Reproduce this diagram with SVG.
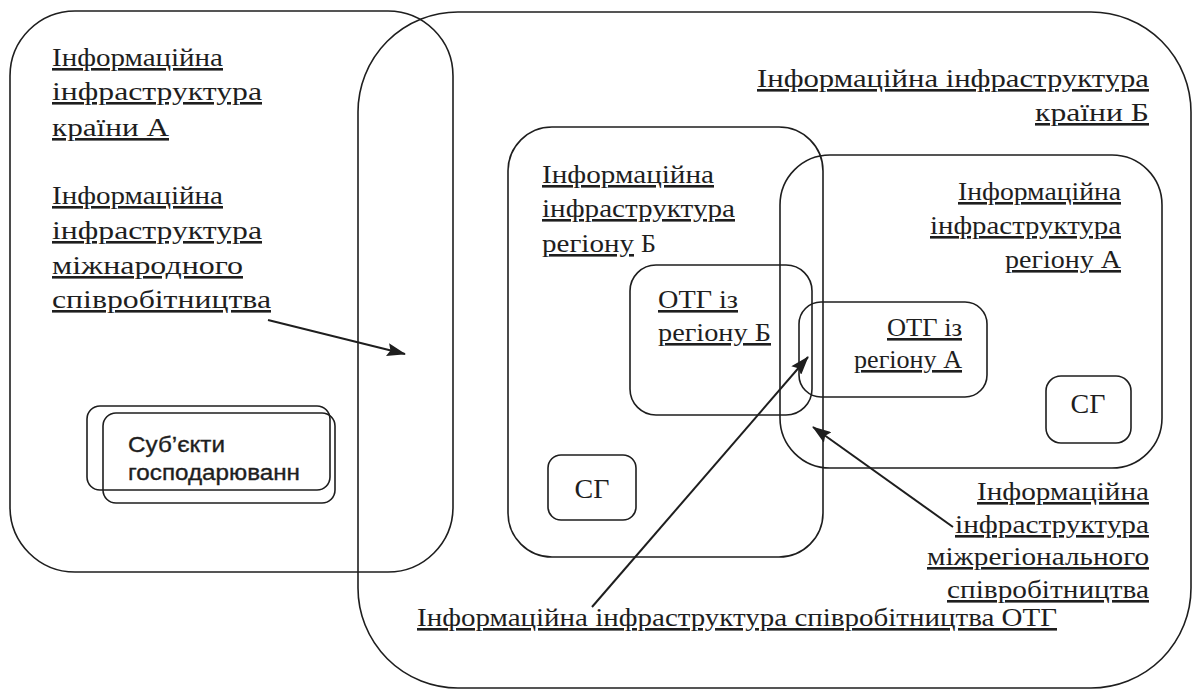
<svg xmlns="http://www.w3.org/2000/svg" width="1193" height="691" viewBox="0 0 1193 691">
<style>
.b{fill:none;stroke:#1e1e1e;stroke-width:1.6}
.t{font-family:"Liberation Serif","Times New Roman",serif;font-size:26px;fill:#1e1e1e}
.u{text-decoration:underline}
.s{font-family:"Liberation Sans",Arial,sans-serif;font-size:22px;fill:#1e1e1e;stroke:#1e1e1e;stroke-width:0.35}
.g{font-family:"Liberation Serif","Times New Roman",serif;font-size:28px;fill:#1e1e1e}
.c{fill:none;stroke:#1e1e1e;stroke-width:2}
</style>
<defs>
<marker id="ah" viewBox="0 0 19 13" refX="18" refY="6.5" markerWidth="19" markerHeight="13" markerUnits="userSpaceOnUse" orient="auto">
<path d="M0,0 L19,6.5 L0,13 L3,6.5 z" fill="#1e1e1e"/>
</marker>
</defs>
<rect width="1193" height="691" fill="#fff"/>
<g id="country-a">
<rect class="b" x="10" y="11" width="443" height="561" rx="65"/>
<text class="t u" x="52" y="66" textLength="171" lengthAdjust="spacingAndGlyphs">Інформаційна</text>
<text class="t u" x="52" y="100" textLength="210" lengthAdjust="spacingAndGlyphs">інфраструктура</text>
<text class="t u" x="52" y="136" textLength="117" lengthAdjust="spacingAndGlyphs">країни А</text>
</g>
<g id="intl-coop">
<text class="t u" x="52" y="204" textLength="171" lengthAdjust="spacingAndGlyphs">Інформаційна</text>
<text class="t u" x="52" y="239" textLength="210" lengthAdjust="spacingAndGlyphs">інфраструктура</text>
<text class="t u" x="52" y="274" textLength="191" lengthAdjust="spacingAndGlyphs">міжнародного</text>
<text class="t u" x="52" y="308" textLength="219" lengthAdjust="spacingAndGlyphs">співробітництва</text>
</g>
<g id="country-b">
<rect class="b" x="358" y="12" width="833" height="676" rx="100"/>
<text class="t u" x="757" y="87" textLength="392" lengthAdjust="spacingAndGlyphs">Інформаційна інфраструктура</text>
<text class="t u" x="1035" y="121" textLength="114" lengthAdjust="spacingAndGlyphs">країни Б</text>
</g>
<g id="region-b">
<rect class="b" x="508" y="127" width="315" height="430" rx="44"/>
<text class="t u" x="542" y="183" textLength="172" lengthAdjust="spacingAndGlyphs">Інформаційна</text>
<text class="t u" x="542" y="217" textLength="193" lengthAdjust="spacingAndGlyphs">інфраструктура</text>
<text class="t u" x="542" y="252" textLength="92" lengthAdjust="spacingAndGlyphs">регіону</text>
<text class="t" x="641" y="252">Б</text>
</g>
<g id="region-a">
<rect class="b" x="780" y="155" width="382" height="313" rx="50"/>
<text class="t u" x="958" y="200" textLength="163" lengthAdjust="spacingAndGlyphs">Інформаційна</text>
<text class="t u" x="930" y="234" textLength="191" lengthAdjust="spacingAndGlyphs">інфраструктура</text>
<text class="t u" x="1005" y="268" textLength="116" lengthAdjust="spacingAndGlyphs">регіону А</text>
</g>
<g id="otg-b">
<rect class="b" x="630" y="265" width="182" height="150" rx="26"/>
<text class="t u" x="658" y="308" textLength="80" lengthAdjust="spacingAndGlyphs">ОТГ із</text>
<text class="t u" x="658" y="341" textLength="113" lengthAdjust="spacingAndGlyphs">регіону Б</text>
</g>
<g id="otg-a">
<rect class="b" x="799" y="302" width="188" height="95" rx="22"/>
<text class="t u" x="887" y="336" textLength="75" lengthAdjust="spacingAndGlyphs">ОТГ із</text>
<text class="t u" x="854" y="368" textLength="108" lengthAdjust="spacingAndGlyphs">регіону А</text>
</g>
<g id="sg-a">
<rect class="b" x="1046" y="376" width="85" height="67" rx="15"/>
<text class="g" x="1088" y="413" text-anchor="middle">СГ</text>
</g>
<g id="sg-b">
<rect class="b" x="548" y="455" width="88" height="65" rx="13"/>
<text class="g" x="592" y="498" text-anchor="middle">СГ</text>
</g>
<g id="business-entities">
<rect class="b" x="87" y="406" width="243" height="84" rx="13"/>
<rect class="b" x="103" y="413" width="232" height="90" rx="13"/>
<text class="s" x="128" y="452" textLength="97" lengthAdjust="spacingAndGlyphs">Суб’єкти</text>
<text class="s" x="128" y="480" textLength="172" lengthAdjust="spacingAndGlyphs">господарюванн</text>
</g>
<g id="interregional-coop">
<text class="t u" x="977" y="500" textLength="172" lengthAdjust="spacingAndGlyphs">Інформаційна</text>
<text class="t u" x="955" y="533" textLength="194" lengthAdjust="spacingAndGlyphs">інфраструктура</text>
<text class="t u" x="927" y="565" textLength="222" lengthAdjust="spacingAndGlyphs">міжрегіонального</text>
<text class="t u" x="947" y="598" textLength="202" lengthAdjust="spacingAndGlyphs">співробітництва</text>
</g>
<g id="otg-coop">
<text class="t u" x="417" y="626" textLength="640" lengthAdjust="spacingAndGlyphs">Інформаційна інфраструктура співробітництва ОТГ</text>
</g>
<g id="connectors">
<line class="c" x1="268" y1="320" x2="405" y2="354" marker-end="url(#ah)"/>
<line class="c" x1="592" y1="607" x2="808" y2="357" marker-end="url(#ah)"/>
<line class="c" x1="953" y1="527" x2="813" y2="427" marker-end="url(#ah)"/>
</g>
</svg>
